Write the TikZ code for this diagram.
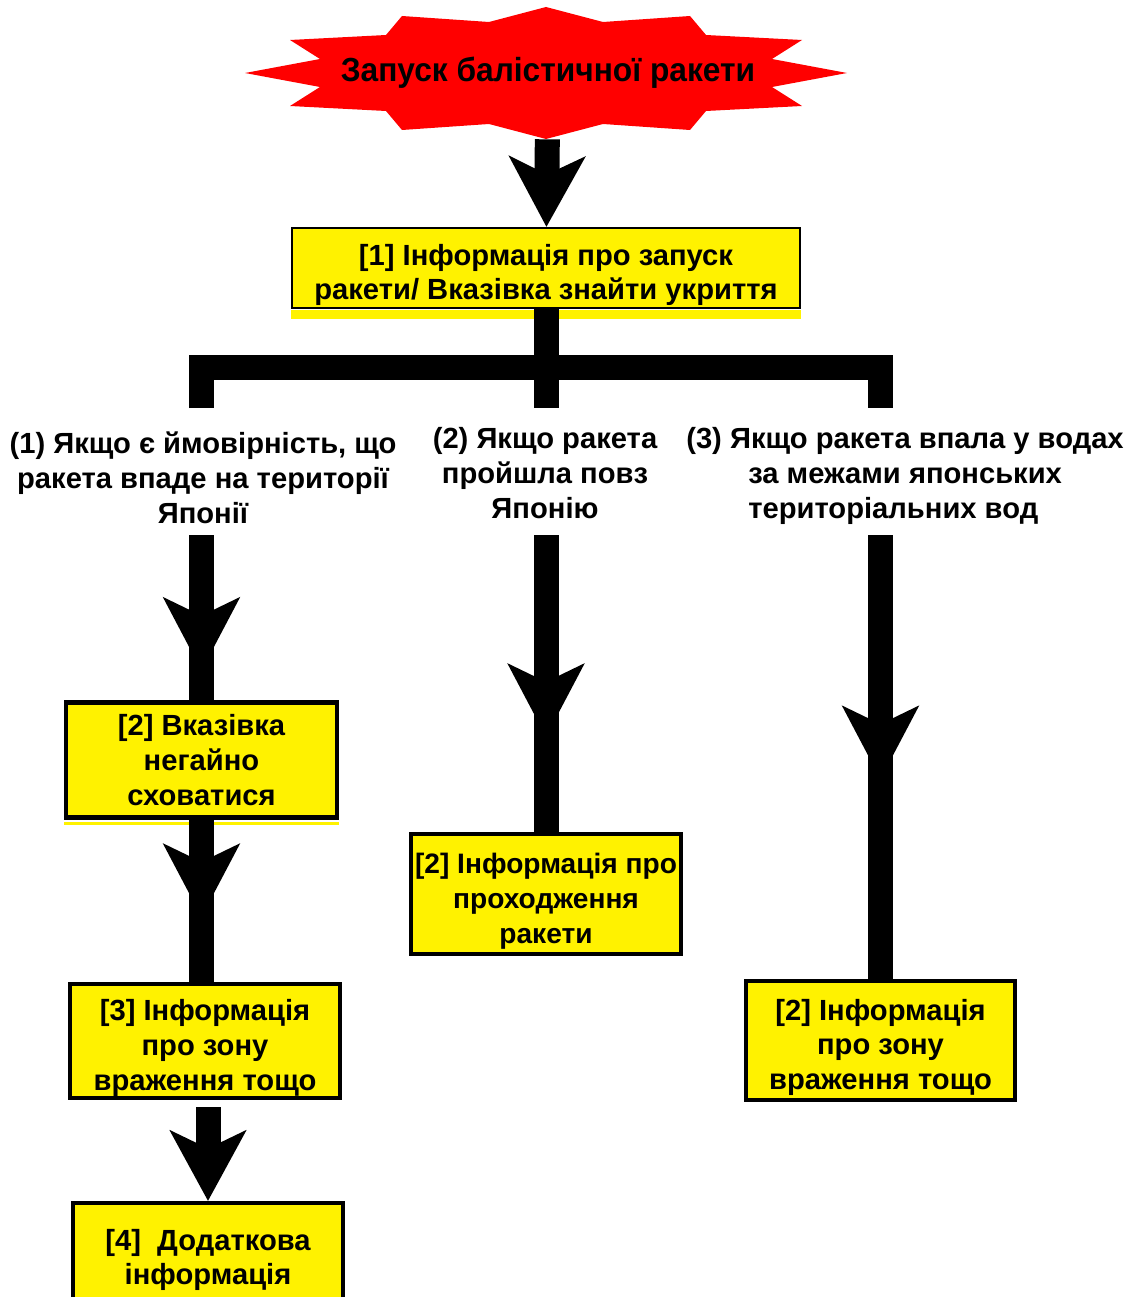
\documentclass[tikz,border=0pt]{standalone}
\usepackage{fontspec}
\setmainfont{Liberation Sans}
\newfontfamily\narrowfont[FakeStretch=0.95]{Liberation Sans}
\usetikzlibrary{arrows.meta,decorations.markings}
\newcommand\boxfont{\fontsize{16.6}{19.8}\selectfont\bfseries}
\newcommand\startfont{\fontsize{19}{22}\selectfont\narrowfont\bfseries}
\newcommand\topgap{\rule{0pt}{0.7cm}}

\begin{document}
\begin{tikzpicture}[x=0.02cm, y=-0.02cm,
  shaft/.style={line width=0.5cm},
  bigtip/.style={-{Stealth[length=1.4cm, width=1.5cm, inset=0.35cm]}},
  midarrow/.style={postaction={decorate}, decoration={markings,
    mark=at position #1 with {\arrow{Stealth[length=1.45cm, width=1.5cm, inset=0.35cm]}}}},
  box/.style={draw, line width=2.3pt, fill=yellow, inner sep=0pt, align=center, font=\boxfont},
  cond/.style={inner sep=2pt, align=center, font=\boxfont}]
  \useasboundingbox (0,0) rectangle (1135,1297);
  \fill[red, shift={(546,73)}] (0,-66) -- (57,-51) -- (144,-57) -- (160,-38) -- (256,-33) -- (226,-14)
    -- (301,0) -- (226,14) -- (256,33) -- (160,38) -- (144,57) -- (57,51) -- (0,66)
    -- (-57,51) -- (-144,57) -- (-160,38) -- (-256,33) -- (-226,14) -- (-301,0)
    -- (-226,-14) -- (-256,-33) -- (-160,-38) -- (-144,-57) -- (-57,-51) -- cycle;
  \node[inner sep=0pt, minimum width=12cm, minimum height=2.64cm, font=\startfont] (launch) at (548,73) {Запуск балістичної ракети};
  \node[box, line width=1.2pt, minimum width=10.16cm, minimum height=1.6cm] (b1) at (546,268) {\topgap[1] Інформація про запуск\\ракети/ Вказівка знайти укриття};
  \fill[yellow] ([yshift=-0.6pt]b1.south west) rectangle ([yshift=-0.2cm]b1.south east);
  \node[cond] (l1) at (203,478) {(1) Якщо є ймовірність, що\\ракета впаде на території\\Японії};
  \node[cond] (l2) at (545,473) {(2) Якщо ракета\\пройшла повз\\Японію};
  \node[cond, align=left] (l3) at (905,476) {(3) Якщо ракета впала у водах\\\hspace*{1.24cm}за межами японських\\\hspace*{1.24cm}територіальних вод};
  \node[box, minimum width=5.42cm, minimum height=2.3cm] (b2) at (201.5,760) {[2] Вказівка\\негайно\\сховатися};
  \fill[yellow] ([yshift=-1.2pt]b2.south west) rectangle ([yshift=-0.1cm]b2.south east);
  \node[box, minimum width=5.4cm, minimum height=2.28cm] (b3) at (205,1041) {\topgap[3] Інформація\\про зону\\враження тощо};
  \node[box, minimum width=5.4cm, minimum height=2.28cm] (b4) at (208,1260) {[4]~~Додаткова\\інформація};
  \node[box, font=\fontsize{16}{19.8}\selectfont\bfseries, minimum width=5.4cm, minimum height=2.4cm] (b5) at (546,894) {\topgap[2] Інформація про\\проходження\\ракети};
  \node[box, minimum width=5.38cm, minimum height=2.38cm] (b6) at (880.5,1040.5) {\topgap[2] Інформація\\про зону\\враження тощо};
  \coordinate (row) at (0,535);
  \coordinate (jl) at (201,408);
  \coordinate (jm) at (546,408);
  \coordinate (jr) at (880,408);
  \coordinate (bl) at (201,367.5);
  \coordinate (br) at (880,367.5);
  \draw[shaft, bigtip] (launch) -- (b1);
  \draw[shaft] (b1) -- (jm);
  \draw[shaft] (jl) -- (bl) -- (br) -- (jr);
  \draw[shaft, midarrow=0.82] (b2 |- row) -- (b2);
  \draw[shaft, midarrow=0.6] (b2) -- (b2 |- b3.north);
  \draw[shaft, bigtip] ([yshift=-0.14cm]b3.south -| b4) -- (b4);
  \draw[shaft, midarrow=0.68] (b5 |- row) -- (b5);
  \draw[shaft, midarrow=0.55] (b6 |- row) -- (b6);
\end{tikzpicture}
\end{document}
